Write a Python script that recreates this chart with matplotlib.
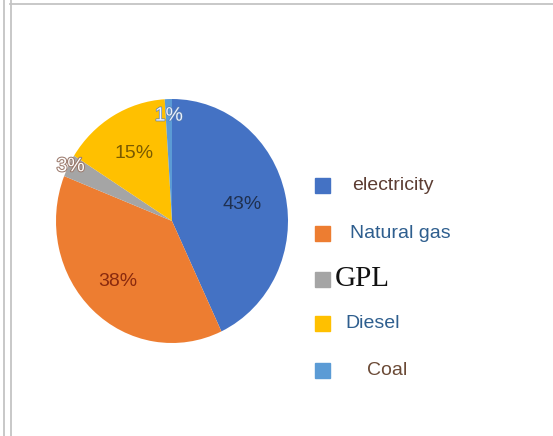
import numpy as np
import matplotlib
matplotlib.use("Agg")
import matplotlib.pyplot as plt
from matplotlib.patches import Rectangle
from matplotlib.lines import Line2D
import matplotlib.patheffects as pe

# Data
labels = ["electricity", "Natural gas", "GPL", "Diesel", "Coal"]
shares = [43, 38, 3, 15, 1]
colors = ["#4472C4", "#ED7D31", "#A5A5A5", "#FFC000", "#5B9BD5"]

# label look
pct_colors = ["#1F3050", "#8A2A0E", "#FFFFFF", "#7A5A00", "#EAF2FF"]
pct_dist = [0.62, 0.68, 0.98, 0.64, 0.86]
legend_colors = ["#5C3D33", "#2E5E8E", "#111111", "#2E5E8E", "#6B4A36"]
legend_x = [352, 350, 335, 345, 367]
legend_y = [185, 233, 279, 323, 370]

W, H = 553, 436
fig = plt.figure(figsize=(W / 100, H / 100), dpi=100)
fig.patch.set_facecolor("white")

# pie axes placed in pixel box: x 56..288, y 99..343 (from top)
x0, x1, y0, y1 = 56, 288, 99, 343
ax = fig.add_axes([x0 / W, 1 - y1 / H, (x1 - x0) / W, (y1 - y0) / H])
wedges, texts, autotexts = ax.pie(
    shares, colors=colors, startangle=90, counterclock=False,
    autopct="%d%%", radius=1, wedgeprops=dict(linewidth=0),
    textprops=dict(fontsize=14, family="Liberation Sans"))
ax.set_aspect("auto")
ax.set_xlim(-1, 1)
ax.set_ylim(-1, 1)

for w, t, d, c in zip(wedges, autotexts, pct_dist, pct_colors):
    ang = np.deg2rad((w.theta1 + w.theta2) / 2)
    t.set_position((d * np.cos(ang), d * np.sin(ang)))
    t.set_color(c)
# outlined small labels
autotexts[2].set_path_effects([pe.withStroke(linewidth=1.5, foreground="#9C7B6E")])
autotexts[4].set_path_effects([pe.withStroke(linewidth=1.0, foreground="#5B7FB0")])

# legend drawn by hand
for i, lab in enumerate(labels):
    yy = legend_y[i]
    fig.patches.append(Rectangle((315 / W, 1 - (yy + 8) / H), 15 / W, 15 / H,
                                 transform=fig.transFigure, color=colors[i]))
    if lab == "GPL":
        fig.text(legend_x[i] / W, 1 - yy / H, lab, fontsize=21,
                 family="Liberation Serif", color=legend_colors[i], va="center")
    else:
        fig.text(legend_x[i] / W, 1 - yy / H, lab, fontsize=14,
                 family="Liberation Sans", color=legend_colors[i], va="center")

# frame lines of the screenshot
for xx in [3.5, 10.5]:
    fig.lines.append(Line2D([xx / W, xx / W], [0, 1], transform=fig.transFigure,
                            color="#C4C4C4", linewidth=1.3))
fig.lines.append(Line2D([10 / W, 1], [1 - 4.5 / H, 1 - 4.5 / H], transform=fig.transFigure,
                        color="#C4C4C4", linewidth=1.3))

fig.savefig("out.png", dpi=100)
